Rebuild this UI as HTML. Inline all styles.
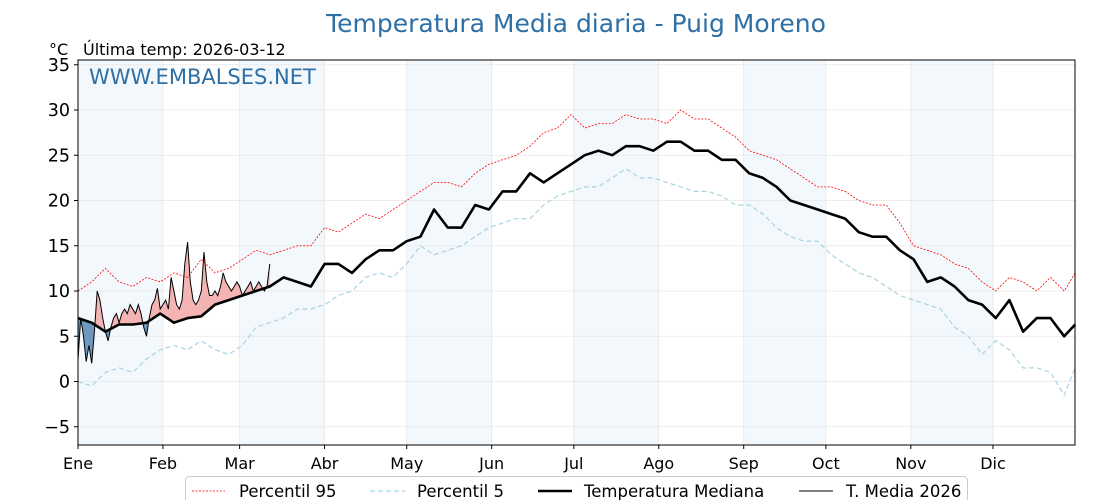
<!DOCTYPE html>
<html><head><meta charset="utf-8"><style>
body{margin:0;background:#fff;width:1120px;height:500px;overflow:hidden;font-family:"DejaVu Sans","Liberation Sans",sans-serif}
</style></head><body>
<svg id="chart" width="1120" height="500" xmlns="http://www.w3.org/2000/svg" font-family="DejaVu Sans, Liberation Sans, sans-serif"></svg>
<script>
const months=["Ene","Feb","Mar","Abr","May","Jun","Jul","Ago","Sep","Oct","Nov","Dic"];
const monthStart=[0,31,59,90,120,151,181,212,243,273,304,334];
const yTicks=[-5,0,5,10,15,20,25,30,35];
const pDays=[0,5,10,15,20,25,30,35,40,45,50,55,60,65,70,75,80,85,90,95,100,105,110,115,120,125,130,135,140,145,150,155,160,165,170,175,180,185,190,195,200,205,210,215,220,225,230,235,240,245,250,255,260,265,270,275,280,285,290,295,300,305,310,315,320,325,330,335,340,345,350,355,360,364];
const median=[7,6.5,5.5,6.3,6.3,6.5,7.5,6.5,7,7.2,8.5,9,9.5,10,10.5,11.5,11,10.5,13,13,12,13.5,14.5,14.5,15.5,16,19,17,17,19.5,19,21,21,23,22,23,24,25,25.5,25,26,26,25.5,26.5,26.5,25.5,25.5,24.5,24.5,23,22.5,21.5,20,19.5,19,18.5,18,16.5,16,16,14.5,13.5,11,11.5,10.5,9,8.5,7,9,5.5,7,7,5,6.3];
const p95=[10,11,12.5,11,10.5,11.5,11,12,11.5,13.5,12,12.5,13.5,14.5,14,14.5,15,15,17,16.5,17.5,18.5,18,19,20,21,22,22,21.5,23,24,24.5,25,26,27.5,28,29.5,28,28.5,28.5,29.5,29,29,28.5,30,29,29,28,27,25.5,25,24.5,23.5,22.5,21.5,21.5,21,20,19.5,19.5,17.5,15,14.5,14,13,12.5,11,10,11.5,11,10,11.5,10,12];
const p5=[0,-0.5,1,1.5,1,2.5,3.5,4,3.5,4.5,3.5,3,4,6,6.5,7,8,8,8.5,9.5,10,11.5,12,11.5,13,15,14,14.5,15,16,17,17.5,18,18,19.5,20.5,21,21.5,21.5,22.5,23.5,22.5,22.5,22,21.5,21,21,20.5,19.5,19.5,18.5,17,16,15.5,15.5,14,13,12,11.5,10.5,9.5,9,8.5,8,6,5,3,4.5,3.5,1.5,1.5,1,-1.5,1.5];
const t2026=[2.4,7,5,2.2,4,2,5.5,10,9,7,5.5,4.5,6,7,7.5,6.5,7.5,8,7.5,8.5,8,7.5,8.5,7.5,6,5,7,8.5,9,10.3,8,8.5,9,8,11.5,10,8.5,8,9,13,15.4,11,9,8.5,9,10,14.3,11,9.5,9.5,10,9.5,10.5,12,11,10.5,10,10.5,11,10.5,9.5,10,10.5,11,10,10.5,11,10.5,10,10.5,13];

const L=78,R=1075,T=60,B=445;
const X=d=>L+d*(993-78)/334;
const Y=v=>381.5-v*9.05;
const NS="http://www.w3.org/2000/svg";
const svg=document.getElementById('chart');
function el(tag,attrs,parent){const e=document.createElementNS(NS,tag);for(const k in attrs)e.setAttribute(k,attrs[k]);(parent||svg).appendChild(e);return e;}
function medAt(d){for(let i=0;i<pDays.length-1;i++){if(d>=pDays[i]&&d<=pDays[i+1]){const f=(d-pDays[i])/(pDays[i+1]-pDays[i]);return median[i]+f*(median[i+1]-median[i]);}}return median[median.length-1];}

for(let m=0;m<12;m+=2){
  const r=el('rect',{x:X(monthStart[m]),y:T,width:X(monthStart[m+1])-X(monthStart[m]),height:B-T,fill:'#f3f8fc'});
  
  
}
yTicks.forEach(v=>{const g=el('line',{x1:L,x2:R,y1:Y(v),y2:Y(v),stroke:'#e6e6e6','stroke-width':0.8});
});
monthStart.forEach(d=>{const g=el('line',{x1:X(d),x2:X(d),y1:T,y2:B,stroke:'#e6e6e6','stroke-width':0.8});
});

const pts=(days,vals)=>vals.map((v,i)=>X(days[i]).toFixed(1)+','+Y(v).toFixed(1)).join(' ');
const dDays=t2026.map((_,i)=>i);

const defs=el('defs',{});
let medPath='';for(let d=0;d<=70;d++)medPath+=(d?'L':'M')+X(d).toFixed(1)+','+Y(medAt(d)).toFixed(1);
const cpA=el('clipPath',{id:'above'},defs);el('path',{d:medPath+'L'+X(70)+','+T+'L'+X(0)+','+T+'Z'},cpA);
const cpB=el('clipPath',{id:'below'},defs);el('path',{d:medPath+'L'+X(70)+','+B+'L'+X(0)+','+B+'Z'},cpB);
let poly=t2026.map((v,i)=>X(i).toFixed(1)+','+Y(v).toFixed(1));
for(let d=70;d>=0;d--)poly.push(X(d).toFixed(1)+','+Y(medAt(d)).toFixed(1));
const fr=el('polygon',{points:poly.join(' '),fill:'#f4b4b4','clip-path':'url(#above)'});

const fb=el('polygon',{points:poly.join(' '),fill:'#6f98c0','clip-path':'url(#below)'});


const l95=el('polyline',{points:pts(pDays,p95),fill:'none',stroke:'#ff0000','stroke-width':0.8,'stroke-dasharray':'2,1.5'});

const l5=el('polyline',{points:pts(pDays,p5),fill:'none',stroke:'#a8d4e2','stroke-width':1.2,'stroke-dasharray':'5,3'});

const lm=el('polyline',{points:pts(pDays,median),fill:'none',stroke:'#000','stroke-width':2.6,'stroke-linejoin':'round'});

const l26=el('polyline',{points:pts(dDays,t2026),fill:'none',stroke:'#000','stroke-width':1});


const fr2=el('rect',{x:L,y:T,width:R-L,height:B-T,fill:'none',stroke:'#000','stroke-width':1});

yTicks.forEach(v=>{
  el('line',{x1:L-4,x2:L,y1:Y(v),y2:Y(v),stroke:'#000'});
  const t=el('text',{x:L-8,y:Y(v)+6,'text-anchor':'end','font-size':17.5});t.textContent=(v<0?'\u2212'+(-v):v);
  
});
months.forEach((m,i)=>{
  el('line',{x1:X(monthStart[i]),x2:X(monthStart[i]),y1:B,y2:B+4,stroke:'#000'});
  const t=el('text',{x:X(monthStart[i]),y:B+24,'text-anchor':'middle','font-size':16});t.textContent=m;
  
});
</script>
<svg style="position:absolute;left:0;top:0" width="1120" height="500" font-family="DejaVu Sans, Liberation Sans, sans-serif">
<text x="576" y="32" text-anchor="middle" font-size="25" fill="#2e6fa6">Temperatura Media diaria - Puig Moreno</text>
<text x="49" y="55" font-size="16">°C</text>
<text x="83" y="55" font-size="16">Última temp: 2026-03-12</text>
<text x="89" y="84" font-size="21" fill="#2e6fa6">WWW.EMBALSES.NET</text>
<g>
<rect x="185.5" y="476.5" width="782" height="40" rx="4" fill="#fff" stroke="#ccc"/>
<line x1="192" x2="225" y1="491" y2="491" stroke="#f00" stroke-dasharray="2,1.5" stroke-width="0.8"/>
<text x="239" y="497" font-size="16.5">Percentil 95</text>
<line x1="370" x2="405" y1="491" y2="491" stroke="#a8d4e2" stroke-dasharray="5,3" stroke-width="1.2"/>
<text x="417" y="497" font-size="16.5">Percentil 5</text>
<line x1="538" x2="572" y1="491" y2="491" stroke="#000" stroke-width="2.6"/>
<text x="584" y="497" font-size="16.5">Temperatura Mediana</text>
<line x1="799" x2="833" y1="491" y2="491" stroke="#000" stroke-width="1"/>
<text x="846" y="497" font-size="16.5">T. Media 2026</text>
</g>
</svg>
</body></html>
